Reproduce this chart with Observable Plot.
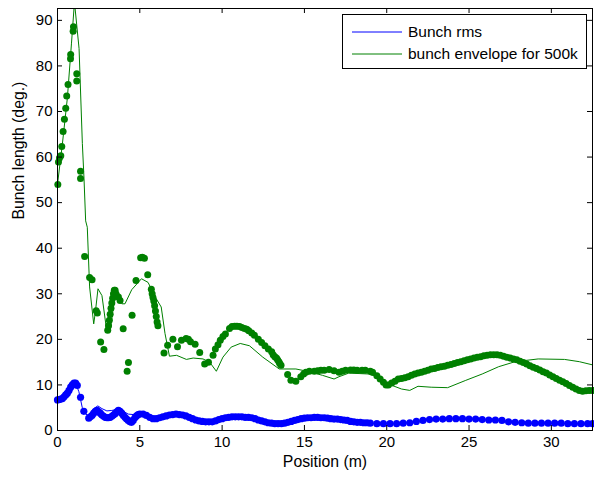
<!DOCTYPE html>
<html>
<head>
<meta charset="utf-8">
<script src="https://cdn.jsdelivr.net/npm/d3@7"></script>
<script src="https://cdn.jsdelivr.net/npm/@observablehq/plot@0.6"></script>
<style>
  html, body { margin: 0; padding: 0; background: #fff; }
  #chart { position: relative; width: 594px; height: 477px; }
</style>
</head>
<body>
<div id="chart"></div>
<script>
// ---- data ----
const xTicks = [0, 5, 10, 15, 20, 25, 30];
const yTicks = [0, 10, 20, 30, 40, 50, 60, 70, 80, 90];
const seriesNames = ["Bunch rms", "bunch envelope for 500k"];

// green line: bunch envelope for 500k
const envX = [0, 0.3, 0.6, 0.85, 1.03, 1.31, 1.51, 1.61, 1.71, 1.81, 1.95, 2.2, 2.3, 2.46, 2.7, 3.0, 3.2, 3.5, 3.7, 3.91, 4.1, 4.51, 5.1, 5.5, 6.0, 6.3, 6.53, 6.8, 7.23, 7.83, 8.24, 8.84, 9.24, 9.65, 10.05, 10.55, 11.1, 11.66, 12.47, 13.47, 14.48, 15.3, 16.1, 16.8, 17.1, 17.7, 18.9, 19.5, 20.1, 20.9, 21.4, 21.9, 22.7, 23.7, 24.8, 25.8, 26.8, 27.8, 29.2, 30.8, 31.7, 32.5];
const envY = [54, 63, 73, 85, 94, 83.8, 63, 55.3, 46, 44.6, 31.5, 23.4, 26, 31.1, 29.6, 21.6, 21.9, 30.0, 29.5, 27.8, 27.8, 30.9, 33.3, 32.5, 28.9, 27.1, 21.3, 16.3, 16.5, 15.6, 15.9, 15.7, 15.0, 13.0, 16.1, 18.3, 19.1, 18.6, 16.1, 13.5, 13.5, 12.9, 12.1, 11.3, 11.8, 12.6, 12.4, 11.7, 10.2, 9.1, 8.8, 9.7, 9.5, 9.4, 11.0, 12.4, 14.0, 15.1, 15.7, 15.6, 15.1, 14.4];

// green dots
const envDotX = [0.02, 0.06, 0.12, 0.2, 0.26, 0.34, 0.42, 0.5, 0.56, 0.64, 0.79, 0.8, 0.95, 0.97, 1.17, 1.17, 1.4, 1.4, 1.65, 1.95, 2.1, 2.35, 2.42, 2.62, 2.82,
  3.05, 3.1, 3.15, 3.2, 3.25, 3.3, 3.35, 3.4, 3.45, 3.5, 3.55, 3.6, 3.7, 3.8,
  3.99, 4.23, 4.31, 4.53, 4.77, 5.05, 5.15, 5.28, 5.48, 5.7, 5.75, 5.8, 5.85, 5.9, 5.95, 6.0, 6.05, 6.1,
  6.47, 6.69, 7.01, 7.29, 7.53, 7.81, 7.95, 8.08, 8.36, 8.64, 8.94, 9.17, 9.45, 9.59, 9.75, 9.89, 10.05, 10.2,
  10.45, 10.6, 10.76, 10.9, 11.06, 11.2, 11.36, 11.5, 11.62, 11.8, 11.96, 12.2, 12.4, 12.6, 12.81, 13.01, 13.1, 13.2, 13.3, 13.37, 13.45, 13.5, 13.58,
  13.98, 14.18, 14.48, 14.78, 14.95, 15.09, 15.3, 15.6, 15.8, 16.0, 16.2, 16.5, 16.8, 17.1, 17.3, 17.5, 17.8, 18.0, 18.2, 18.5, 18.7, 19.0, 19.14,
  19.4, 19.6, 19.8, 19.96, 20.1, 20.3, 20.5, 20.7, 20.9, 21.1, 21.3, 21.5, 21.7, 21.9, 22.1, 22.3, 22.5, 22.7, 22.9, 23.1, 23.3, 23.5, 23.7, 23.9,
  24.1, 24.3, 24.5, 24.7, 24.9, 25.1, 25.3, 25.5, 25.7, 25.9, 26.1, 26.3, 26.5, 26.7, 26.9, 27.1, 27.3, 27.5, 27.7, 27.9, 28.1, 28.3, 28.5, 28.7,
  28.9, 29.1, 29.3, 29.5, 29.7, 29.9, 30.1, 30.3, 30.5, 30.7, 30.9, 31.1, 31.3, 31.5, 31.7, 31.9, 32.1, 32.3, 32.5];
const envDotY = [54.0, 58.9, 59.8, 60.3, 62.3, 65.6, 68.3, 70.7, 73.4, 75.9, 81.6, 82.5, 87.6, 88.6, 78.3, 76.7, 56.9, 55.3, 38.2, 33.6, 33.1, 26.3, 25.8, 19.4, 17.8,
  22.0, 23.0, 24.2, 25.5, 26.8, 28.0, 29.0, 30.0, 30.8, 30.8, 30.0, 29.5, 29.3, 28.5,
  22.3, 13.0, 14.9, 25.3, 32.9, 37.9, 38.0, 37.8, 34.2, 31.0, 30.0, 29.2, 28.4, 27.4, 26.2, 25.0, 23.8, 23.0,
  17.0, 18.7, 20.0, 18.4, 19.8, 20.2, 20.0, 19.5, 18.9, 17.1, 14.6, 15.0, 16.5, 17.9, 18.8, 19.8, 20.6, 21.2,
  22.4, 22.8, 22.9, 22.9, 22.8, 22.6, 22.4, 22.2, 21.9, 21.4, 20.9, 20.0, 19.3, 18.6, 17.9, 17.3, 16.6, 16.2, 15.9, 15.5, 15.1, 14.7, 14.3,
  12.3, 11.0, 10.8, 11.8, 12.4, 12.8, 13.0, 13.0, 13.1, 13.2, 13.2, 13.4, 13.1, 12.8, 13.0, 13.2, 13.3, 13.3, 13.2, 13.2, 13.2, 13.0, 12.8,
  12.0, 11.3, 10.6, 10.0, 10.0, 10.4, 10.8, 11.3, 11.4, 11.6, 11.8, 12.1, 12.4, 12.6, 12.8, 13.0, 13.2, 13.5, 13.6, 13.8, 14.0, 14.1, 14.3, 14.5,
  14.7, 14.9, 15.1, 15.3, 15.5, 15.7, 15.9, 16.1, 16.2, 16.4, 16.5, 16.6, 16.6, 16.6, 16.5, 16.3, 16.1, 15.9, 15.7, 15.5, 15.2, 14.9, 14.6, 14.2,
  13.9, 13.6, 13.3, 12.9, 12.6, 12.2, 11.8, 11.4, 11.0, 10.7, 10.3, 9.9, 9.5, 9.1, 8.8, 8.6, 8.7, 8.8, 8.8];

// blue line: bunch rms
const rmsX = [0, 0.5, 0.9, 1.1, 1.3, 1.5, 1.7, 1.9, 2.2, 2.45, 2.7, 3.0, 3.3, 3.6, 3.85, 4.1, 4.3, 4.6, 4.9, 5.2, 5.6, 6.0, 7.0, 7.6, 8.4, 9.2, 10.0, 11.0, 12.0, 13.0, 14.0, 15.0, 16.0, 17.0, 18.0, 19.0, 20.0, 21.0, 22.0, 23.0, 24.0, 25.0, 26.0, 27.0, 28.0, 29.0, 30.0, 31.0, 32.5];
const rmsY = [6.7, 7.8, 10.0, 10.4, 8.5, 5.1, 3.6, 3.3, 4.8, 5.4, 4.8, 4.3, 4.4, 4.6, 4.8, 4.0, 3.6, 3.5, 3.6, 3.6, 2.9, 2.6, 3.5, 3.4, 2.3, 1.9, 2.6, 3.0, 2.6, 1.6, 1.8, 2.7, 2.8, 2.5, 1.9, 1.6, 1.5, 1.6, 2.1, 2.5, 2.6, 2.5, 2.3, 2.2, 1.7, 1.6, 1.6, 1.5, 1.5];

// blue dots
const rmsDotX = [0.0, 0.1, 0.2, 0.3, 0.4, 0.5, 0.6, 0.7, 0.8, 0.9, 1.0, 1.1, 1.2, 1.4, 1.6, 1.9, 2.0, 2.1, 2.2, 2.3, 2.4, 2.5, 2.6, 2.7, 2.8, 2.9, 3.0, 3.1, 3.2, 3.3, 3.4, 3.5, 3.6, 3.7, 3.8, 3.9, 4.0, 4.1, 4.2, 4.3, 4.4, 4.5, 4.6, 4.7, 4.8, 4.9, 5.0,
  5.2, 5.4, 5.6, 5.8, 6.0, 6.2, 6.4, 6.6, 6.8, 7.0, 7.2, 7.4, 7.6, 7.8, 8.0, 8.2, 8.4, 8.6, 8.8, 9.0, 9.2, 9.4, 9.6, 9.8, 10.0, 10.2, 10.4, 10.6, 10.8, 11.0,
  11.2, 11.4, 11.6, 11.8, 12.0, 12.2, 12.4, 12.6, 12.8, 13.0, 13.2, 13.4, 13.6, 13.8, 14.0, 14.2, 14.4, 14.6, 14.8, 15.0, 15.2, 15.4, 15.6, 15.8, 16.0,
  16.2, 16.4, 16.6, 16.8, 17.0, 17.2, 17.4, 17.6, 17.8, 18.0, 18.2, 18.4, 18.6, 18.8, 19.0, 19.4, 19.8, 20.2, 20.6, 21.0, 21.4, 21.8, 22.2, 22.6, 23.0,
  23.4, 23.8, 24.2, 24.6, 25.0, 25.4, 25.8, 26.2, 26.6, 27.0, 27.4, 27.8, 28.2, 28.6, 29.0, 29.4, 29.8, 30.2, 30.6, 31.0, 31.4, 31.8, 32.2, 32.5];
const rmsDotY = [6.7, 6.8, 6.9, 7.0, 7.4, 7.8, 8.2, 8.8, 9.5, 10.0, 10.4, 10.4, 9.9, 7.3, 4.2, 2.7, 3.0, 3.3, 3.8, 4.2, 4.4, 4.1, 3.8, 3.4, 3.1, 2.9, 2.8, 2.8, 2.9, 3.1, 3.4, 3.7, 4.1, 4.4, 4.2, 3.8, 3.3, 2.9, 2.5, 2.2, 1.9, 1.8, 2.2, 2.8, 3.2, 3.5, 3.6,
  3.6, 3.3, 2.9, 2.6, 2.6, 2.8, 3.0, 3.2, 3.4, 3.5, 3.6, 3.5, 3.4, 3.2, 2.9, 2.6, 2.3, 2.1, 2.0, 1.9, 1.9, 1.9, 2.1, 2.4, 2.6, 2.8, 2.9, 3.0, 3.0, 3.0,
  3.0, 2.9, 2.9, 2.8, 2.6, 2.3, 2.1, 1.9, 1.7, 1.6, 1.5, 1.5, 1.5, 1.6, 1.8, 2.0, 2.2, 2.4, 2.6, 2.7, 2.8, 2.8, 2.9, 2.9, 2.8,
  2.8, 2.7, 2.6, 2.5, 2.5, 2.4, 2.3, 2.2, 2.0, 1.9, 1.8, 1.8, 1.7, 1.7, 1.6, 1.5, 1.5, 1.5, 1.5, 1.6, 1.7, 2.0, 2.2, 2.4, 2.5,
  2.5, 2.6, 2.6, 2.6, 2.5, 2.5, 2.4, 2.3, 2.3, 2.2, 1.9, 1.8, 1.7, 1.6, 1.6, 1.6, 1.6, 1.6, 1.6, 1.5, 1.5, 1.5, 1.5, 1.5];

// ---- build tables ----
const zip = (xs, ys) => xs.map((x, i) => ({x, y: ys[i]}));
const envLine = zip(envX, envY);
const envDots = zip(envDotX, envDotY);
const rmsLine = zip(rmsX, rmsY);
const rmsDots = zip(rmsDotX, rmsDotY);

const W = 594, H = 477;
const mL = 57, mR = 2, mT = 8, mB = 47;
const pw = W - mL - mR, ph = H - mT - mB;
const GREEN = "#008000", BLUE = "#0000ff";
const FONT = "'Liberation Sans', Arial, Helvetica, sans-serif";

const plot = Plot.plot({
  width: W, height: H,
  marginLeft: mL, marginRight: mR, marginTop: mT, marginBottom: mB,
  style: {fontFamily: FONT, fontSize: "15px", color: "#000", background: "#fff"},
  x: {domain: [0, 32.5]},
  y: {domain: [0, 92.6]},
  marks: [
    Plot.line(envLine, {x: "x", y: "y", stroke: GREEN, strokeWidth: 1, clip: true}),
    Plot.line(rmsLine, {x: "x", y: "y", stroke: BLUE, strokeWidth: 1, clip: true}),
    Plot.dot(envDots, {x: "x", y: "y", r: 3.5, fill: GREEN, stroke: "none"}),
    Plot.dot(rmsDots, {x: "x", y: "y", r: 3.6, fill: BLUE, stroke: "none"}),
    Plot.frame({stroke: "#000", strokeWidth: 1}),
    Plot.axisX(xTicks, {tickSize: 0, tickPadding: 6, label: null, fontSize: 15}),
    Plot.axisY(yTicks, {tickSize: 0, tickPadding: 5, label: null, fontSize: 15}),
    Plot.tickX(xTicks, {x: d => d, insetTop: ph - 5, stroke: "#000"}),
    Plot.tickX(xTicks, {x: d => d, insetBottom: ph - 5, stroke: "#000"}),
    Plot.tickY(yTicks, {y: d => d, insetRight: pw - 5, stroke: "#000"}),
    Plot.tickY(yTicks, {y: d => d, insetLeft: pw - 5, stroke: "#000"}),
    Plot.text([0], {frameAnchor: "bottom", dy: 36, text: () => "Position (m)", fontSize: 15.8, fill: "#000"}),
    Plot.text([0], {frameAnchor: "left", dx: -39, rotate: -90, text: () => "Bunch length (deg.)", fontSize: 15.8, fill: "#000"})
  ]
});

// legend box
const svg = d3.select(plot);
const lg = svg.append("g").attr("font-family", FONT).attr("font-size", 15.5).attr("text-anchor", "start");
lg.append("rect").attr("x", 342.5).attr("y", 14.5).attr("width", 244).attr("height", 54)
  .attr("fill", "#fff").attr("stroke", "#000");
[[BLUE, 32, seriesNames[0]], [GREEN, 54, seriesNames[1]]].forEach(([c, y, t]) => {
  lg.append("line").attr("x1", 352).attr("x2", 402).attr("y1", y).attr("y2", y).attr("stroke", c);
  lg.append("text").attr("x", 408).attr("y", y).attr("dy", "0.35em").attr("text-anchor", "start").attr("fill", "#000").text(t);
});

document.getElementById("chart").appendChild(plot);
</script>
</body>
</html>
